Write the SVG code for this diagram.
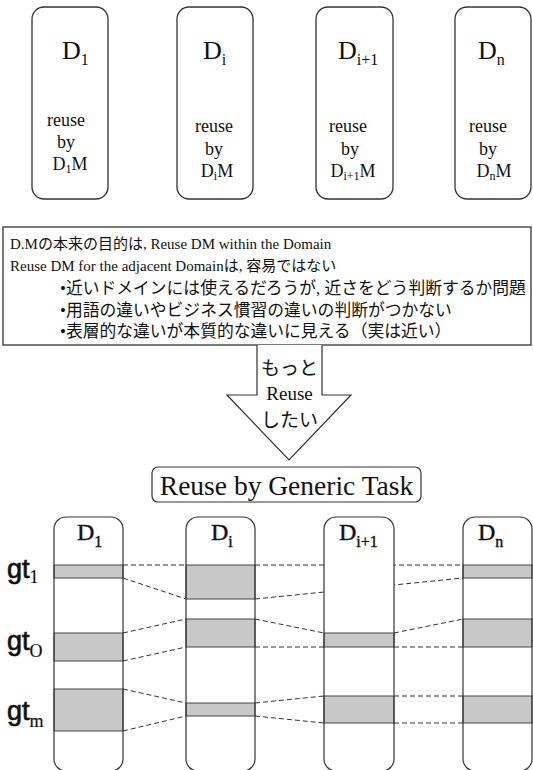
<svg xmlns="http://www.w3.org/2000/svg" width="533" height="770" viewBox="0 0 533 770">
<style>
.box{fill:#fff;stroke:#333;stroke-width:1.3}
.serif{font-family:"Liberation Serif","Noto Sans CJK JP",serif;fill:#111}
.jp{font-family:"Liberation Serif","Noto Sans CJK JP",sans-serif;fill:#111}
.big{font-size:26px}
.sub{font-size:16px}
.small{font-size:18px}
.band{fill:#c8c8c8;stroke:#444;stroke-width:1}
.dash{stroke:#333;stroke-width:1;stroke-dasharray:5,3;fill:none}
.gt{font-family:"Liberation Sans",Arial,sans-serif;font-size:27px;fill:#111;stroke:#111;stroke-width:0.7}
.gts{font-family:"Liberation Serif",serif;font-size:18px;stroke-width:0.2}
</style>
<rect width="533" height="770" fill="#fff"/>

<g id="top-d1">
<rect class="box" x="32" y="7" width="76" height="192" rx="12"/>
<text class="serif big" x="62" y="59">D<tspan class="sub" dy="6">1</tspan></text>
<text class="serif small" x="66" y="126" text-anchor="middle">reuse</text>
<text class="serif small" x="66" y="148" text-anchor="middle">by</text>
<text class="serif small" x="70" y="170" text-anchor="middle">D<tspan font-size="12" dy="3">1</tspan><tspan dy="-3">M</tspan></text>
</g>
<g id="top-di">
<rect class="box" x="177" y="7" width="76" height="192" rx="12"/>
<text class="serif big" x="203" y="59">D<tspan class="sub" dy="6">i</tspan></text>
<text class="serif small" x="214" y="132" text-anchor="middle">reuse</text>
<text class="serif small" x="214" y="155" text-anchor="middle">by</text>
<text class="serif small" x="217" y="177" text-anchor="middle">D<tspan font-size="12" dy="3">i</tspan><tspan dy="-3">M</tspan></text>
</g>
<g id="top-di1">
<rect class="box" x="316" y="7" width="77" height="192" rx="12"/>
<text class="serif big" x="338" y="59">D<tspan class="sub" dy="6">i+1</tspan></text>
<text class="serif small" x="348" y="132" text-anchor="middle">reuse</text>
<text class="serif small" x="350" y="155" text-anchor="middle">by</text>
<text class="serif small" x="353" y="177" text-anchor="middle">D<tspan font-size="12" dy="3">i+1</tspan><tspan dy="-3">M</tspan></text>
</g>
<g id="top-dn">
<rect class="box" x="455" y="7" width="76" height="192" rx="12"/>
<text class="serif big" x="478" y="59">D<tspan class="sub" dy="6">n</tspan></text>
<text class="serif small" x="488" y="132" text-anchor="middle">reuse</text>
<text class="serif small" x="488" y="155" text-anchor="middle">by</text>
<text class="serif small" x="494" y="177" text-anchor="middle">D<tspan font-size="12" dy="3">n</tspan><tspan dy="-3">M</tspan></text>
</g>

<g id="note">
<rect x="3" y="227" width="528" height="118" fill="#fff" stroke="#333" stroke-width="1.3"/>
<text class="jp" font-size="15" x="10" y="249">D.Mの本来の目的は, Reuse DM within the Domain</text>
<text class="jp" font-size="15" x="10" y="271">Reuse DM for the adjacent Domainは, 容易ではない</text>
<text class="jp" font-size="16.8" x="60" y="294">•近いドメインには使えるだろうが, 近さをどう判断するか問題</text>
<text class="jp" font-size="16.8" x="60" y="316">•用語の違いやビジネス慣習の違いの判断がつかない</text>
<text class="jp" font-size="16.8" x="60" y="337">•表層的な違いが本質的な違いに見える（実は近い）</text>
</g>

<g id="arrow">
<path d="M257,345 L257,395 L227,395 L289,460 L351,395 L322,395 L322,345" fill="#fff" stroke="#333" stroke-width="1.2"/>
<text class="jp" font-size="19" x="289.5" y="375" text-anchor="middle">もっと</text>
<text class="serif" font-size="19" x="289.5" y="400" text-anchor="middle">Reuse</text>
<text class="jp" font-size="19" x="289.5" y="427" text-anchor="middle">したい</text>
</g>

<g id="title">
<rect x="152" y="467" width="269" height="35" rx="6" fill="#fff" stroke="#333" stroke-width="1.2"/>
<text class="serif" font-size="27.5" x="286.5" y="495" text-anchor="middle">Reuse by Generic Task</text>
</g>

<g id="connectors">
<line class="dash" x1="123" y1="565" x2="186" y2="565"/>
<line class="dash" x1="255" y1="565" x2="463" y2="565"/>
<line class="dash" x1="123" y1="578" x2="186" y2="599"/>
<line class="dash" x1="255" y1="599" x2="463" y2="578"/>
<line class="dash" x1="123" y1="633" x2="186" y2="619"/>
<line class="dash" x1="123" y1="661" x2="186" y2="647"/>
<line class="dash" x1="255" y1="619" x2="324" y2="633"/>
<line class="dash" x1="255" y1="647" x2="324" y2="647"/>
<line class="dash" x1="394" y1="633" x2="463" y2="619"/>
<line class="dash" x1="394" y1="647" x2="463" y2="647"/>
<line class="dash" x1="123" y1="689" x2="186" y2="703"/>
<line class="dash" x1="123" y1="731" x2="186" y2="716"/>
<line class="dash" x1="255" y1="703" x2="324" y2="696"/>
<line class="dash" x1="255" y1="716" x2="324" y2="723"/>
<line class="dash" x1="394" y1="696" x2="463" y2="696"/>
<line class="dash" x1="394" y1="723" x2="463" y2="723"/>
</g>

<g id="col-d1">
<rect x="54" y="517" width="69" height="254" rx="12" fill="#fff"/>
<rect class="band" x="54" y="565" width="69" height="13"/>
<rect class="band" x="54" y="633" width="69" height="28"/>
<rect class="band" x="54" y="689" width="69" height="42"/>
<rect x="54" y="517" width="69" height="254" rx="12" fill="none" stroke="#333" stroke-width="1.2"/>
<text class="serif" font-size="24" x="77" y="540" stroke="#111" stroke-width="0.4">D<tspan font-size="16" dy="7">1</tspan></text>
</g>
<g id="col-di">
<rect x="186" y="517" width="69" height="254" rx="12" fill="#fff"/>
<rect class="band" x="186" y="565" width="69" height="34"/>
<rect class="band" x="186" y="619" width="69" height="28"/>
<rect class="band" x="186" y="703" width="69" height="13"/>
<rect x="186" y="517" width="69" height="254" rx="12" fill="none" stroke="#333" stroke-width="1.2"/>
<text class="serif" font-size="24" x="211" y="540" stroke="#111" stroke-width="0.4">D<tspan font-size="16" dy="7">i</tspan></text>
</g>
<g id="col-di1">
<rect x="324" y="517" width="70" height="254" rx="12" fill="#fff"/>
<rect class="band" x="324" y="633" width="70" height="14"/>
<rect class="band" x="324" y="696" width="70" height="27"/>
<rect x="324" y="517" width="70" height="254" rx="12" fill="none" stroke="#333" stroke-width="1.2"/>
<text class="serif" font-size="24" x="339" y="540" stroke="#111" stroke-width="0.4">D<tspan font-size="16" dy="7">i+1</tspan></text>
</g>
<g id="col-dn">
<rect x="463" y="517" width="69" height="254" rx="12" fill="#fff"/>
<rect class="band" x="463" y="565" width="69" height="13"/>
<rect class="band" x="463" y="619" width="69" height="28"/>
<rect class="band" x="463" y="696" width="69" height="27"/>
<rect x="463" y="517" width="69" height="254" rx="12" fill="none" stroke="#333" stroke-width="1.2"/>
<text class="serif" font-size="24" x="478" y="540" stroke="#111" stroke-width="0.4">D<tspan font-size="16" dy="7">n</tspan></text>
</g>

<g id="labels">
<text class="gt" x="7" y="578">gt<tspan class="gts" dy="5">1</tspan></text>
<text class="gt" x="7" y="650">gt<tspan class="gts" dy="7">O</tspan></text>
<text class="gt" x="7" y="720">gt<tspan class="gts" dy="7">m</tspan></text>
</g>
</svg>
